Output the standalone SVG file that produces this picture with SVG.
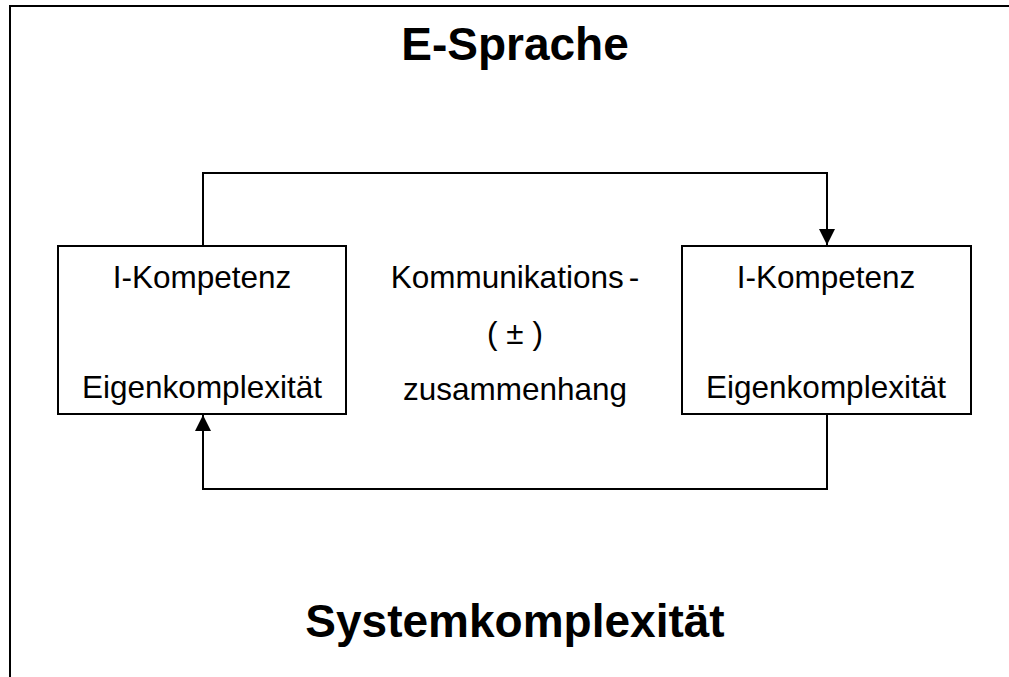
<svg xmlns="http://www.w3.org/2000/svg" width="1009" height="677" viewBox="0 0 1009 677">
<defs>
<style>
.ln{fill:none;stroke:#000;stroke-width:2}
.box{fill:#fff;stroke:#000;stroke-width:2}
.t{font-family:"Liberation Sans",Arial,sans-serif;font-size:31.5px;fill:#000;text-anchor:middle}
.h{font-family:"Liberation Sans",Arial,sans-serif;font-size:46px;font-weight:bold;fill:#000;text-anchor:middle}
</style>
<marker id="ah" viewBox="0 0 16 16" refX="16" refY="8" markerWidth="16" markerHeight="16" markerUnits="userSpaceOnUse" orient="auto">
<path d="M0,0 L16,8 L0,16 Z" fill="#000"/>
</marker>
</defs>
<rect width="1009" height="677" fill="#fff"/>
<path class="ln" d="M10,677 V6 H1009" stroke-width="3"/>
<g id="title"><text class="h" x="515" y="60">E-Sprache</text></g>
<g id="footer"><text class="h" x="515" y="637">Systemkomplexität</text></g>
<g id="connectors">
<path class="ln" d="M203,246 V173 H827 V245" marker-end="url(#ah)"/>
<path class="ln" d="M827,414 V489 H203 V415" marker-end="url(#ah)"/>
</g>
<g id="left">
<rect class="box" x="58" y="246" width="288" height="168"/>
<text class="t" x="202" y="288">I-Kompetenz</text>
<text class="t" x="202" y="398">Eigenkomplexität</text>
</g>
<g id="right">
<rect class="box" x="682" y="246" width="289" height="168"/>
<text class="t" x="826" y="288">I-Kompetenz</text>
<text class="t" x="826" y="398">Eigenkomplexität</text>
</g>
<g id="middle">
<text class="t" x="515" y="288">Kommunikations<tspan dx="5">-</tspan></text>
<text class="t" x="515" y="344">( ± )</text>
<text class="t" x="515" y="400">zusammenhang</text>
</g>
</svg>
